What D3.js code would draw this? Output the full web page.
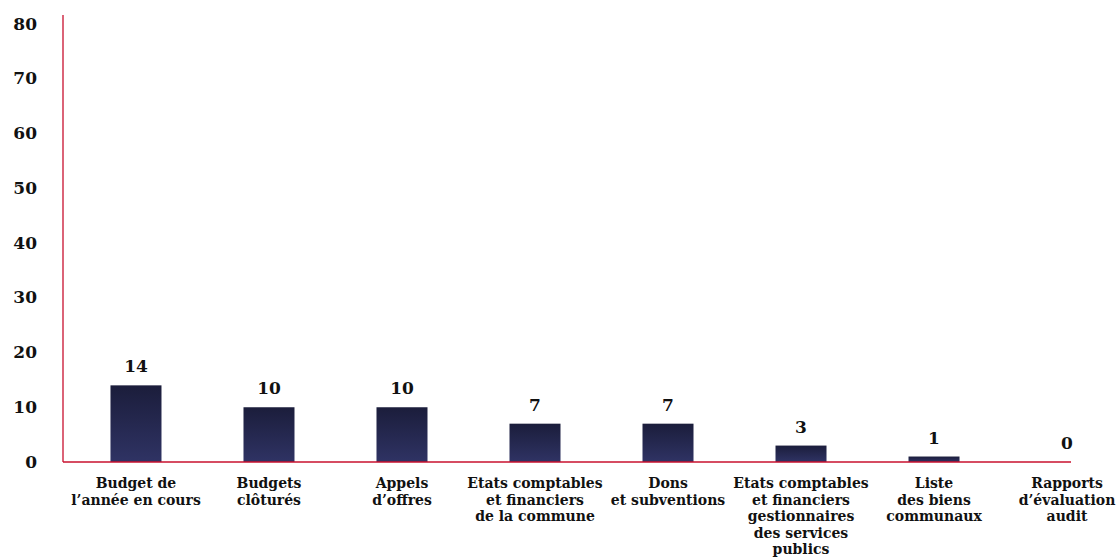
<!DOCTYPE html>
<html>
<head>
<meta charset="utf-8">
<script src="https://cdn.jsdelivr.net/npm/d3@7"></script>
<style>
  html, body { margin: 0; padding: 0; background: #ffffff; }
  svg { display: block; }
  text { font-family: "DejaVu Serif", "Liberation Serif", serif; font-weight: bold; fill: #111111; }
</style>
</head>
<body>
<svg id="chart" width="1118" height="557"></svg>
<script>
// Documents published by the commune (count per document type)
const categories = [
  ["Budget de", "l\u2019ann\u00e9e en cours"],
  ["Budgets", "cl\u00f4tur\u00e9s"],
  ["Appels", "d\u2019offres"],
  ["Etats comptables", "et financiers", "de la commune"],
  ["Dons", "et subventions"],
  ["Etats comptables", "et financiers", "gestionnaires", "des services", "publics"],
  ["Liste", "des biens", "communaux"],
  ["Rapports", "d\u2019\u00e9valuation", "audit"]
];
const values = [14, 10, 10, 7, 7, 3, 1, 0];
const yTicks = [0, 10, 20, 30, 40, 50, 60, 70, 80];

const svg = d3.select("#chart");

const axisX = 63, baseY = 462, topY = 15, axisRight = 1071;

const x = d3.scaleBand()
  .domain(d3.range(categories.length))
  .range([63, 1140])
  .paddingInner(0.6165)
  .paddingOuter(0.357);

const y = d3.scaleLinear()
  .domain([0, 80])
  .range([baseY, 24]);

// Bar gradient: dark navy at top to slightly lighter navy at bottom
const defs = svg.append("defs");
const grad = defs.append("linearGradient")
  .attr("id", "barGrad")
  .attr("x1", 0).attr("y1", 0).attr("x2", 0).attr("y2", 1);
grad.append("stop").attr("offset", "0%").attr("stop-color", "#1b1d3b");
grad.append("stop").attr("offset", "100%").attr("stop-color", "#2f3364");

// Y tick labels (no tick marks)
const yAxis = d3.axisLeft(y).tickValues(yTicks).tickSize(0).tickPadding(0);
const gy = svg.append("g")
  .attr("transform", `translate(37,0)`)
  .call(yAxis);
gy.select(".domain").remove();
gy.selectAll("text")
  .attr("font-family", "DejaVu Serif, Liberation Serif, serif")
  .attr("font-weight", "bold")
  .attr("font-size", 17)
  .attr("fill", "#111")
  .attr("dy", "0.3em");

// Bars
svg.append("g")
  .selectAll("rect")
  .data(values)
  .join("rect")
  .attr("x", (d, i) => x(i))
  .attr("y", d => y(d))
  .attr("width", x.bandwidth())
  .attr("height", d => baseY - y(d))
  .attr("fill", "url(#barGrad)");

// Axis lines
svg.append("line")
  .attr("x1", axisX).attr("x2", axisX)
  .attr("y1", topY).attr("y2", baseY)
  .attr("stroke", "#c8102e").attr("stroke-width", 1.3);
svg.append("line")
  .attr("x1", axisX).attr("x2", axisRight)
  .attr("y1", baseY).attr("y2", baseY)
  .attr("stroke", "#c8102e").attr("stroke-width", 1.3);

// Value labels above bars
svg.append("g")
  .selectAll("text")
  .data(values)
  .join("text")
  .attr("x", (d, i) => x(i) + x.bandwidth() / 2)
  .attr("y", d => y(d) - 13)
  .attr("text-anchor", "middle")
  .attr("font-size", 17)
  .text(d => d);

// Category labels (multi-line)
const catG = svg.append("g")
  .selectAll("text")
  .data(categories)
  .join("text")
  .attr("text-anchor", "middle")
  .attr("font-size", 14)
  .attr("transform", (d, i) => `translate(${x(i) + x.bandwidth() / 2},488)`);
catG.selectAll("tspan")
  .data(d => d)
  .join("tspan")
  .attr("x", 0)
  .attr("y", (d, j) => j * 16.6)
  .text(d => d);
</script>
</body>
</html>
